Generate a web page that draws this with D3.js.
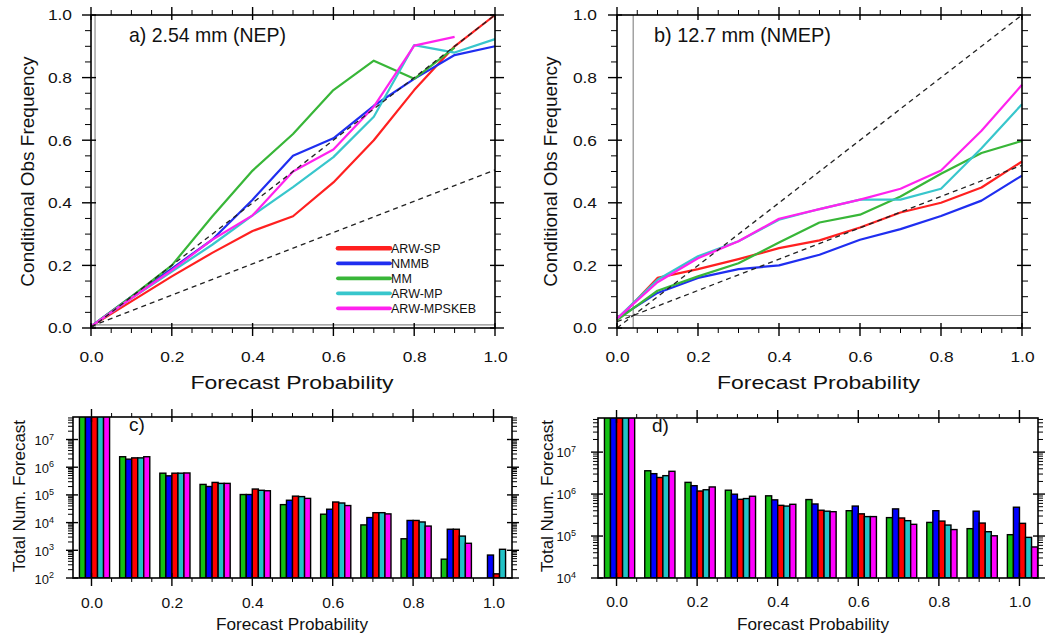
<!DOCTYPE html>
<html><head><meta charset="utf-8">
<script src="https://cdn.jsdelivr.net/npm/d3@7"></script>
<style>
body{margin:0;background:#fff}
svg{display:block}
text{font-family:"Liberation Sans",Arial,Helvetica,sans-serif;fill:#111}
</style>
</head><body>
<svg id="chart" width="1048" height="637"></svg>
<script>
// ---------------- DATA ----------------
const probs = [0, 0.1, 0.2, 0.3, 0.4, 0.5, 0.6, 0.7, 0.8, 0.9, 1.0];
const lineModels = ["ARW-SP", "NMMB", "MM", "ARW-MP", "ARW-MPSKEB"];
const lineColors = ["#ff2020", "#1f2ef0", "#38b638", "#38c6cc", "#ff22ee"];

// a) 2.54 mm (NEP) reliability
const nepArwSp    = [0.005, 0.085, 0.165, 0.240, 0.310, 0.357, 0.465, 0.600, 0.760, 0.900, 1.000];
const nepNmmb     = [0.005, 0.100, 0.190, 0.282, 0.410, 0.550, 0.606, 0.710, 0.796, 0.872, 0.900];
const nepMm       = [0.005, 0.100, 0.200, 0.356, 0.503, 0.620, 0.760, 0.854, 0.796, 0.896, null];
const nepArwMp    = [0.005, 0.095, 0.180, 0.266, 0.360, 0.450, 0.546, 0.675, 0.904, 0.880, 0.923];
const nepArwMpskeb= [0.005, 0.095, 0.185, 0.282, 0.360, 0.500, 0.570, 0.707, 0.902, 0.930, null];

// b) 12.7 mm (NMEP) reliability
const nmepArwSp    = [0.025, 0.160, 0.188, 0.220, 0.255, 0.280, 0.321, 0.369, 0.400, 0.449, 0.532];
const nmepNmmb     = [0.030, 0.112, 0.160, 0.188, 0.200, 0.234, 0.282, 0.316, 0.358, 0.407, 0.487];
const nmepMm       = [0.025, 0.119, 0.165, 0.207, 0.273, 0.337, 0.362, 0.420, 0.493, 0.559, 0.598];
const nmepArwMp    = [0.030, 0.154, 0.229, 0.277, 0.346, 0.380, 0.410, 0.410, 0.445, 0.574, 0.715];
const nmepArwMpskeb= [0.030, 0.146, 0.223, 0.277, 0.349, 0.380, 0.410, 0.445, 0.503, 0.630, 0.777];

// sample climatology (observed base rate) for each threshold
const climatologyA = 0.01;
const climatologyB = 0.04;

// c), d) total number of forecasts per probability bin (bars order: MM, NMMB, ARW-SP, ARW-MP, ARW-MPSKEB)
const barModels = ["MM", "NMMB", "ARW-SP", "ARW-MP", "ARW-MPSKEB"];
const barColors = ["#14c014", "#0000ff", "#ff0000", "#22c2c6", "#ff00ff"];
const countC_Mm       = [1e8, 2.2e6, 5.6e5, 2.2e5, 9.5e4, 4.1e4, 1.85e4, 7.6e3, 2.4e3, 4.4e2, null];
const countC_Nmmb     = [1e8, 1.8e6, 4.5e5, 1.85e5, 9.5e4, 5.9e4, 2.8e4, 1.4e4, 1.1e4, 5.3e3, 6.2e2];
const countC_ArwSp    = [1e8, 2.0e6, 5.6e5, 2.6e5, 1.5e5, 8.3e4, 5.1e4, 2.1e4, 1.1e4, 5.3e3, 1.3e2];
const countC_ArwMp    = [1e8, 2.0e6, 5.6e5, 2.4e5, 1.35e5, 8.0e4, 4.7e4, 2.1e4, 9.7e3, 3.0e3, 1.0e3];
const countC_ArwMpskeb= [1e8, 2.2e6, 5.7e5, 2.4e5, 1.3e5, 6.9e4, 3.8e4, 1.9e4, 6.9e3, 1.65e3, null];

const countD_Mm       = [1e8, 3.4e6, 1.8e6, 1.17e6, 8.6e5, 7.0e5, 3.8e5, 2.6e5, 2.0e5, 1.42e5, 1.02e5];
const countD_Nmmb     = [1e8, 2.9e6, 1.5e6, 9.4e5, 6.9e5, 5.5e5, 4.9e5, 4.2e5, 3.8e5, 3.7e5, 4.6e5];
const countD_ArwSp    = [1e8, 2.35e6, 1.12e6, 7.1e5, 5.1e5, 3.9e5, 3.2e5, 2.55e5, 2.15e5, 1.93e5, 1.9e5];
const countD_ArwMp    = [1e8, 2.6e6, 1.2e6, 7.4e5, 4.9e5, 3.7e5, 2.75e5, 2.2e5, 1.73e5, 1.2e5, 8.8e4];
const countD_ArwMpskeb= [1e8, 3.3e6, 1.4e6, 8.4e5, 5.4e5, 3.6e5, 2.75e5, 1.8e5, 1.35e5, 9.6e4, 5.2e4];

const majorTicks = [0, 0.2, 0.4, 0.6, 0.8, 1.0];
const minorTicks = [0.05,0.1,0.15,0.25,0.3,0.35,0.45,0.5,0.55,0.65,0.7,0.75,0.85,0.9,0.95];

// ---------------- DRAWING ----------------
const svg = d3.select("#chart");
const fmt = d3.format(".1f");
const SX = 1.12; // horizontal stretch of the original typography

function vTicks(g, scale, vals, yEdge, dir, outLen, inLen, w) {
  g.selectAll(null).data(vals).enter().append("line")
    .attr("x1", d => scale(d)).attr("x2", d => scale(d))
    .attr("y1", yEdge + dir * outLen).attr("y2", yEdge - dir * inLen)
    .attr("stroke", "#000").attr("stroke-width", w);
}
function hTicks(g, scale, vals, xEdge, dir, outLen, inLen, w) {
  g.selectAll(null).data(vals).enter().append("line")
    .attr("y1", d => scale(d)).attr("y2", d => scale(d))
    .attr("x1", xEdge + dir * outLen).attr("x2", xEdge - dir * inLen)
    .attr("stroke", "#000").attr("stroke-width", w);
}

function reliabilityPanel(opt) {
  const x = d3.scaleLinear([0, 1], [opt.left, opt.right]);
  const y = d3.scaleLinear([0, 1], [opt.bottom, opt.top]);
  const g = svg.append("g");

  // climatology lines
  g.append("line").attr("x1", x(opt.clim)).attr("x2", x(opt.clim)).attr("y1", y(0)).attr("y2", y(1))
    .attr("stroke", "#8c8c8c").attr("stroke-width", 1.2);
  g.append("line").attr("x1", x(0)).attr("x2", x(1)).attr("y1", y(opt.clim)).attr("y2", y(opt.clim))
    .attr("stroke", "#8c8c8c").attr("stroke-width", 1.2);

  // model curves
  const line = d3.line().defined(d => d[1] != null).x(d => x(d[0])).y(d => y(d[1]));
  opt.series.forEach((s, i) => {
    g.append("path").datum(probs.map((p, k) => [p, s[k]]))
      .attr("d", line).attr("fill", "none").attr("stroke", lineColors[i])
      .attr("stroke-width", 2.2).attr("stroke-linejoin", "round");
  });

  // perfect reliability and no-skill lines
  const dashed = [[[0, 0], [1, 1]], [[0, opt.clim / 2], [1, (1 + opt.clim) / 2]]];
  dashed.forEach(seg => {
    g.append("path").datum(seg).attr("d", d3.line().x(d => x(d[0])).y(d => y(d[1])))
      .attr("fill", "none").attr("stroke", "#222").attr("stroke-width", 1.3)
      .attr("stroke-dasharray", "5,4");
  });

  // frame
  g.append("rect").attr("x", opt.left).attr("y", opt.top)
    .attr("width", opt.right - opt.left).attr("height", opt.bottom - opt.top)
    .attr("fill", "none").attr("stroke", "#000").attr("stroke-width", 1.6);

  // ticks on four sides
  vTicks(g, x, majorTicks, opt.bottom, 1, 8, 5, 1.4);
  vTicks(g, x, minorTicks, opt.bottom, 1, 5, 0, 1);
  vTicks(g, x, majorTicks, opt.top, -1, 8, 5, 1.4);
  vTicks(g, x, minorTicks, opt.top, -1, 5, 0, 1);
  hTicks(g, y, majorTicks, opt.left, -1, 9, 5, 1.4);
  hTicks(g, y, minorTicks, opt.left, -1, 6, 0, 1);
  hTicks(g, y, majorTicks, opt.right, 1, 9, 5, 1.4);
  hTicks(g, y, minorTicks, opt.right, 1, 6, 0, 1);

  // tick labels
  const bx = g.append("g").attr("transform", `translate(0,${opt.bottom})`)
    .call(d3.axisBottom(x).tickValues(majorTicks).tickFormat(fmt).tickSize(0).tickPadding(23));
  bx.select(".domain").remove();
  bx.selectAll("text").attr("font-size", 15.5).attr("font-family", "Liberation Sans, Arial, sans-serif")
    .attr("fill", "#111").attr("transform", `scale(${SX},1)`);
  const ly = g.append("g").attr("transform", `translate(${opt.left},0)`)
    .call(d3.axisLeft(y).tickValues(majorTicks).tickFormat(fmt).tickSize(0));
  ly.select(".domain").remove();
  ly.selectAll("text").attr("font-size", 15.5).attr("font-family", "Liberation Sans, Arial, sans-serif")
    .attr("fill", "#111").attr("x", opt.labelGap / SX).attr("transform", `scale(${SX},1)`);

  // axis titles
  g.append("text").attr("x", (opt.left + opt.right) / 2 - 1).attr("y", 389)
    .attr("text-anchor", "middle").attr("font-size", 19)
    .attr("textLength", 203).attr("lengthAdjust", "spacingAndGlyphs")
    .text("Forecast Probability");
  g.append("text").attr("transform", `translate(${opt.ylabX},${(opt.top + opt.bottom) / 2}) rotate(-90)`)
    .attr("text-anchor", "middle").attr("font-size", 19)
    .text("Conditional Obs Frequency");

  // panel title
  g.append("text").attr("x", opt.titleX).attr("y", 41.5)
    .attr("font-family", "Open Sans, Lato, sans-serif").attr("font-size", 21)
    .attr("textLength", opt.titleLen).attr("lengthAdjust", "spacingAndGlyphs")
    .text(opt.title);
  return { g, x, y };
}

const pa = reliabilityPanel({
  left: 91, right: 495, top: 15, bottom: 328, clim: climatologyA,
  series: [nepArwSp, nepNmmb, nepMm, nepArwMp, nepArwMpskeb],
  labelGap: -19, ylabX: 34, title: "a) 2.54 mm (NEP)", titleX: 129, titleLen: 157
});
const pb = reliabilityPanel({
  left: 617, right: 1022, top: 15, bottom: 328, clim: climatologyB,
  series: [nmepArwSp, nmepNmmb, nmepMm, nmepArwMp, nmepArwMpskeb],
  labelGap: -20, ylabX: 557, title: "b) 12.7 mm (NMEP)", titleX: 654, titleLen: 177
});

// legend in panel a
const legend = pa.g.append("g");
const legY = d3.scalePoint().domain(lineModels).range([248.3, 308.3]);
lineModels.forEach((m, i) => {
  legend.append("line").attr("x1", 338).attr("x2", 390).attr("y1", legY(m)).attr("y2", legY(m))
    .attr("stroke", lineColors[i]).attr("stroke-width", i === 0 ? 4.6 : 3.8).attr("stroke-linecap", "round");
  legend.append("text").attr("x", 391).attr("y", legY(m)).attr("dy", "0.36em")
    .attr("font-size", 12.5).text(m);
});

// ---------------- bar panels ----------------
const barOffsets = [-0.0225, -0.0075, 0.0075, 0.0225, 0.0375];
const barHalf = 0.0075;

function countPanel(opt) {
  const x = d3.scaleLinear([-0.046, 1.046], [opt.left, opt.right]);
  const y = d3.scaleLog([opt.ymin, 6.5e7], [opt.bottom, opt.top]);
  const g = svg.append("g");
  const clipId = "clip" + opt.name;
  svg.append("clipPath").attr("id", clipId).append("rect")
    .attr("x", opt.left).attr("y", opt.top).attr("width", opt.right - opt.left).attr("height", opt.bottom - opt.top);

  const bars = g.append("g").attr("clip-path", `url(#${clipId})`);
  opt.series.forEach((s, i) => {
    bars.selectAll(null).data(probs.map((p, k) => [p, s[k]]).filter(d => d[1] != null))
      .enter().append("rect")
      .attr("x", d => x(d[0] + barOffsets[i] - barHalf))
      .attr("width", d => x(d[0] + barOffsets[i] + barHalf) - x(d[0] + barOffsets[i] - barHalf))
      .attr("y", d => y(Math.min(d[1], 6.5e7)) - 1)
      .attr("height", d => y(opt.ymin) - y(Math.min(d[1], 6.5e7)) + 1)
      .attr("fill", barColors[i]).attr("stroke", "#000").attr("stroke-width", 1.4);
  });

  g.append("rect").attr("x", opt.left).attr("y", opt.top)
    .attr("width", opt.right - opt.left).attr("height", opt.bottom - opt.top)
    .attr("fill", "none").attr("stroke", "#000").attr("stroke-width", 1.6);

  // x ticks
  vTicks(g, x, majorTicks, opt.bottom, 1, 8, 5, 1.4);
  vTicks(g, x, minorTicks, opt.bottom, 1, 4, 0, 1);
  vTicks(g, x, majorTicks, opt.top, -1, 8, 5, 1.4);
  vTicks(g, x, minorTicks, opt.top, -1, 4, 0, 1);
  // log y ticks
  const decades = d3.range(Math.log10(opt.ymin), 8).map(e => Math.pow(10, e));
  const minors = [];
  decades.forEach(dv => { for (let k = 2; k <= 9; k++) if (dv * k < 6.5e7) minors.push(dv * k); });
  hTicks(g, y, decades, opt.left, -1, 7, 5, 1.4);
  hTicks(g, y, minors, opt.left, -1, 5, 0, 1);
  hTicks(g, y, decades, opt.right, 1, 7, 5, 1.4);
  hTicks(g, y, minors, opt.right, 1, 5, 0, 1);

  // labels
  const bx = g.append("g").attr("transform", `translate(0,${opt.bottom})`)
    .call(d3.axisBottom(x).tickValues(majorTicks).tickFormat(fmt).tickSize(0).tickPadding(opt.xPad));
  bx.select(".domain").remove();
  bx.selectAll("text").attr("font-size", 14).attr("font-family", "Liberation Sans, Arial, sans-serif")
    .attr("fill", "#111").attr("transform", `scale(${SX},1)`);

  const yl = g.append("g");
  decades.forEach(dv => {
    const t = yl.append("text").attr("x", opt.left + opt.yGap).attr("y", y(dv) + opt.yBase)
      .attr("text-anchor", "end").attr("font-size", 13);
    t.append("tspan").text("10");
    t.append("tspan").attr("font-size", 9).attr("dy", -5.5).text(String(Math.round(Math.log10(dv))));
  });

  g.append("text").attr("x", opt.xlabX).attr("y", 630)
    .attr("text-anchor", "middle").attr("font-size", 17)
    .attr("textLength", 152).attr("lengthAdjust", "spacingAndGlyphs")
    .text("Forecast Probability");
  g.append("text").attr("transform", `translate(${opt.ylabX},496) rotate(-90)`)
    .attr("text-anchor", "middle").attr("font-size", 17)
    .text("Total Num. Forecast");
  g.append("text").attr("x", opt.tagX).attr("y", opt.tagY)
    .attr("font-family", "Open Sans, Lato, sans-serif").attr("font-size", 19)
    .text(opt.tag);
}

countPanel({
  name: "C", left: 73, right: 512, top: 417, bottom: 578, ymin: 1e2,
  series: [countC_Mm, countC_Nmmb, countC_ArwSp, countC_ArwMp, countC_ArwMpskeb],
  xPad: 20, yGap: -19, yBase: 5.5, xlabX: 292, ylabX: 25, tag: "c)", tagX: 129, tagY: 431
});
countPanel({
  name: "D", left: 598, right: 1038, top: 418, bottom: 578, ymin: 1e4,
  series: [countD_Mm, countD_Nmmb, countD_ArwSp, countD_ArwMp, countD_ArwMpskeb],
  xPad: 19, yGap: -22, yBase: 5, xlabX: 813, ylabX: 553, tag: "d)", tagX: 652, tagY: 432
});
</script>
</body></html>
